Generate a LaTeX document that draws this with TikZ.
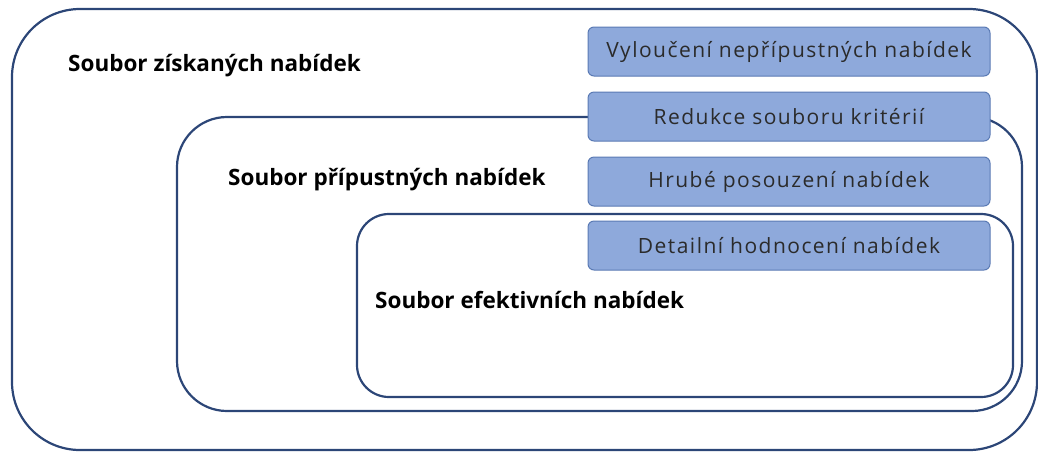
\documentclass[tikz,border=0pt]{standalone}
\usepackage{fontspec}
\setmainfont{Open Sans}
\begin{document}
\begin{tikzpicture}[x=1pt,y=-1pt,
  setbox/.style={draw=navy,line width=2.2pt},
  stepbox/.style={draw=stepedge,fill=stepfill,line width=1pt,rounded corners=6pt,minimum width=402pt,minimum height=49pt,inner sep=0pt,text=steptext,font=\fontsize{21}{24}\selectfont\addfontfeatures{LetterSpace=7}},
  settitle/.style={anchor=west,inner sep=0pt,font=\bfseries\fontsize{22.5}{26}\selectfont}]
\definecolor{navy}{HTML}{2C4677}
\definecolor{stepfill}{HTML}{8EA9DB}
\definecolor{stepedge}{HTML}{5A7AB4}
\definecolor{steptext}{HTML}{2B2B2B}
\useasboundingbox (0,0) rectangle (1038,451);
\draw[setbox,rounded corners=68pt] (12,9) rectangle (1037,450);
\draw[setbox,rounded corners=50pt] (177,117) rectangle (1022,411);
\draw[setbox,rounded corners=32pt] (357,214) rectangle (1013,397);
\node[settitle] (t1) at (68,66) {Soubor získaných nabídek};
\node[settitle] (t2) at (228,180) {Soubor přípustných nabídek};
\node[settitle] (t3) at (375,300) {Soubor efektivních nabídek};
\node[stepbox] (s1) at (789,51.5) {Vyloučení nepřípustných nabídek};
\node[stepbox] (s2) at (789,116.5) {Redukce souboru kritérií};
\node[stepbox] (s3) at (789,181.5) {Hrubé posouzení nabídek};
\node[stepbox] (s4) at (789,245.5) {Detailní hodnocení nabídek};
\end{tikzpicture}
\end{document}
